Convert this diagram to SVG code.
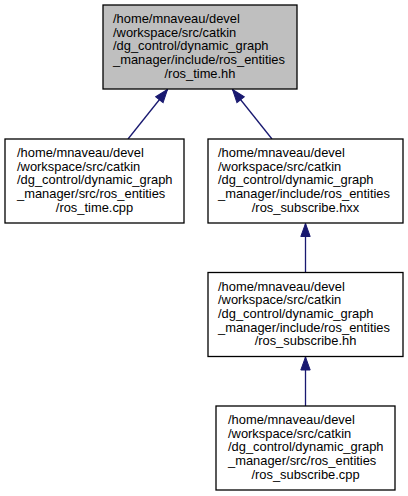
<svg xmlns="http://www.w3.org/2000/svg" width="408" height="496" viewBox="0 0 408 496">
<style>
.box{fill:#ffffff;stroke:#000000;stroke-width:1.3}
.hl{fill:#bfbfbf}
text{font-family:"Liberation Sans",Arial,Helvetica,sans-serif;font-size:12.9px;fill:#000000}
.c{text-anchor:middle}
.edge{stroke:#191970;stroke-width:1.3;fill:none}
</style>
<defs>
<marker id="arr" markerUnits="userSpaceOnUse" markerWidth="16" markerHeight="12" viewBox="-1 -6 16 12" refX="13" refY="0" orient="auto">
<path d="M0,-4.7 L13,0 L0,4.7 z" fill="#191970" stroke="#191970" stroke-width="1"/>
</marker>
</defs>
<rect width="408" height="496" fill="#ffffff"/>
<g id="edges">
<line class="edge" x1="128" y1="139" x2="167.5" y2="89.5" marker-end="url(#arr)"/>
<line class="edge" x1="272" y1="139" x2="232.5" y2="89.5" marker-end="url(#arr)"/>
<line class="edge" x1="305.5" y1="272.5" x2="305.5" y2="223.5" marker-end="url(#arr)"/>
<line class="edge" x1="305.5" y1="406" x2="305.5" y2="357" marker-end="url(#arr)"/>
</g>
<g id="node_ros_time_hh">
<rect class="box hl" x="103" y="5" width="194" height="84"/>
<text x="113" y="23">/home/mnaveau/devel</text>
<text x="113" y="36.7">/workspace/src/catkin</text>
<text x="113" y="50.4">/dg_control/dynamic_graph</text>
<text x="113" y="64.1">_manager/include/ros_entities</text>
<text class="c" x="200" y="77.8">/ros_time.hh</text>
</g>
<g id="node_ros_time_cpp">
<rect class="box" x="5" y="139" width="179" height="84"/>
<text x="17" y="157">/home/mnaveau/devel</text>
<text x="17" y="170.7">/workspace/src/catkin</text>
<text x="17" y="184.4">/dg_control/dynamic_graph</text>
<text x="17" y="198.1">_manager/src/ros_entities</text>
<text class="c" x="94.5" y="211.8">/ros_time.cpp</text>
</g>
<g id="node_ros_subscribe_hxx">
<rect class="box" x="208" y="139" width="195" height="84"/>
<text x="218" y="157">/home/mnaveau/devel</text>
<text x="218" y="170.7">/workspace/src/catkin</text>
<text x="218" y="184.4">/dg_control/dynamic_graph</text>
<text x="218" y="198.1">_manager/include/ros_entities</text>
<text class="c" x="305.5" y="211.8">/ros_subscribe.hxx</text>
</g>
<g id="node_ros_subscribe_hh">
<rect class="box" x="208" y="272.5" width="195" height="84"/>
<text x="218" y="290.5">/home/mnaveau/devel</text>
<text x="218" y="304.2">/workspace/src/catkin</text>
<text x="218" y="317.9">/dg_control/dynamic_graph</text>
<text x="218" y="331.6">_manager/include/ros_entities</text>
<text class="c" x="305.5" y="345.3">/ros_subscribe.hh</text>
</g>
<g id="node_ros_subscribe_cpp">
<rect class="box" x="216" y="406" width="179" height="84"/>
<text x="228" y="424">/home/mnaveau/devel</text>
<text x="228" y="437.7">/workspace/src/catkin</text>
<text x="228" y="451.4">/dg_control/dynamic_graph</text>
<text x="228" y="465.1">_manager/src/ros_entities</text>
<text class="c" x="305.5" y="478.8">/ros_subscribe.cpp</text>
</g>
</svg>
